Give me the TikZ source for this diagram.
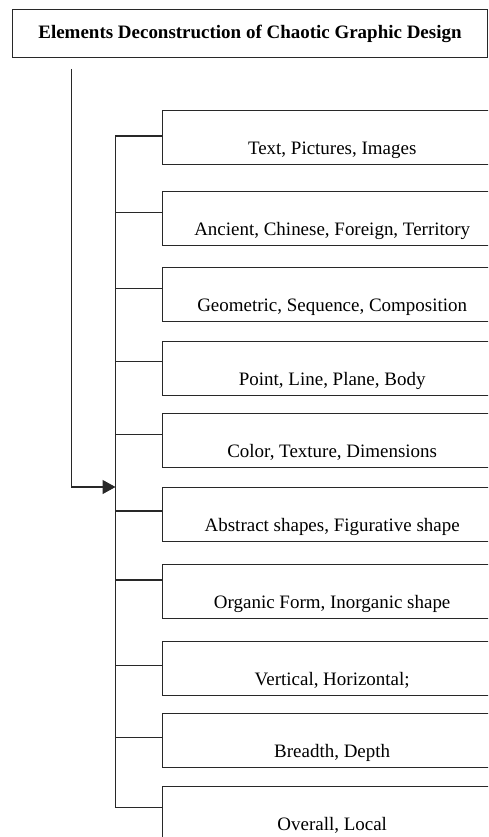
\documentclass[tikz,border=0pt]{standalone}
\usepackage{fontspec}
\setmainfont{Liberation Serif}
\usetikzlibrary{arrows.meta, positioning, calc}
\definecolor{linegray}{RGB}{40, 40, 40}

\begin{document}
\begin{tikzpicture}[
        x=0.02cm, y=-0.02cm,
        every node/.style={font=\fontsize{10.8}{13}\selectfont},
        headbox/.style={draw=linegray, line width=0.6pt, minimum width=9.5cm, minimum height=0.96cm, inner sep=0pt, anchor=north west, font=\fontsize{10.8}{13}\selectfont\bfseries},
        block/.style={draw=linegray, line width=0.6pt, minimum width=6.8cm, minimum height=1.08cm, inner sep=0pt, anchor=north west, text height=19.3pt, text depth=0pt},
        link/.style={draw=linegray, line width=0.6pt},
        arrow/.style={link, -{Triangle[length=7.4pt, width=8pt]}}
    ]
        \useasboundingbox (0,0) rectangle (488,837);
        \clip (0,0) rectangle (488,837);

        % Title
        \node[headbox] (head) at (12,9.3) {Elements Deconstruction of Chaotic Graphic Design};

        % Elements
        \node[block] (text) at (161.7,109.7) {Text, Pictures, Images};
        \node[block] (culture) at (161.7,191) {Ancient, Chinese, Foreign, Territory};
        \node[block] (geometry) at (161.7,267.3) {Geometric, Sequence, Composition};
        \node[block] (point) at (161.7,341) {Point, Line, Plane, Body};
        \node[block] (color) at (161.7,413.3) {Color, Texture, Dimensions};
        \node[block] (abstract) at (161.7,487.3) {Abstract shapes, Figurative shape};
        \node[block] (organic) at (161.7,564.3) {Organic Form, Inorganic shape};
        \node[block] (direction) at (161.7,640.7) {Vertical, Horizontal;};
        \node[block] (breadth) at (161.7,712.7) {Breadth, Depth};
        \node[block] (overall) at (161.7,785.7) {Overall, Local};

        % Bus and branch points
        \coordinate (bus) at (115.5,487);
        \coordinate (start) at (71.3,69);
        \coordinate (b1) at ($(text.north west)+(0,26.3)$);
        \coordinate (b2) at ($(culture.north west)+(0,21.3)$);
        \coordinate (b3) at ($(geometry.north west)+(0,21)$);
        \coordinate (b4) at ($(point.north west)+(0,20.7)$);
        \coordinate (b5) at ($(color.north west)+(0,21)$);
        \coordinate (b6) at ($(abstract.north west)+(0,23.7)$);
        \coordinate (b7) at ($(organic.north west)+(0,15.7)$);
        \coordinate (b8) at ($(direction.north west)+(0,25)$);
        \coordinate (b9) at ($(breadth.north west)+(0,25)$);
        \coordinate (b10) at ($(overall.north west)+(0,21.6)$);

        % Connectors
        \draw[link] (b1) -| (bus) |- (b10);
        \draw[link] (b2) -- (b2 -| bus);
        \draw[link] (b3) -- (b3 -| bus);
        \draw[link] (b4) -- (b4 -| bus);
        \draw[link] (b5) -- (b5 -| bus);
        \draw[link] (b6) -- (b6 -| bus);
        \draw[link] (b7) -- (b7 -| bus);
        \draw[link] (b8) -- (b8 -| bus);
        \draw[link] (b9) -- (b9 -| bus);
        \draw[arrow] (start) |- (bus);
    \end{tikzpicture}
\end{document}
